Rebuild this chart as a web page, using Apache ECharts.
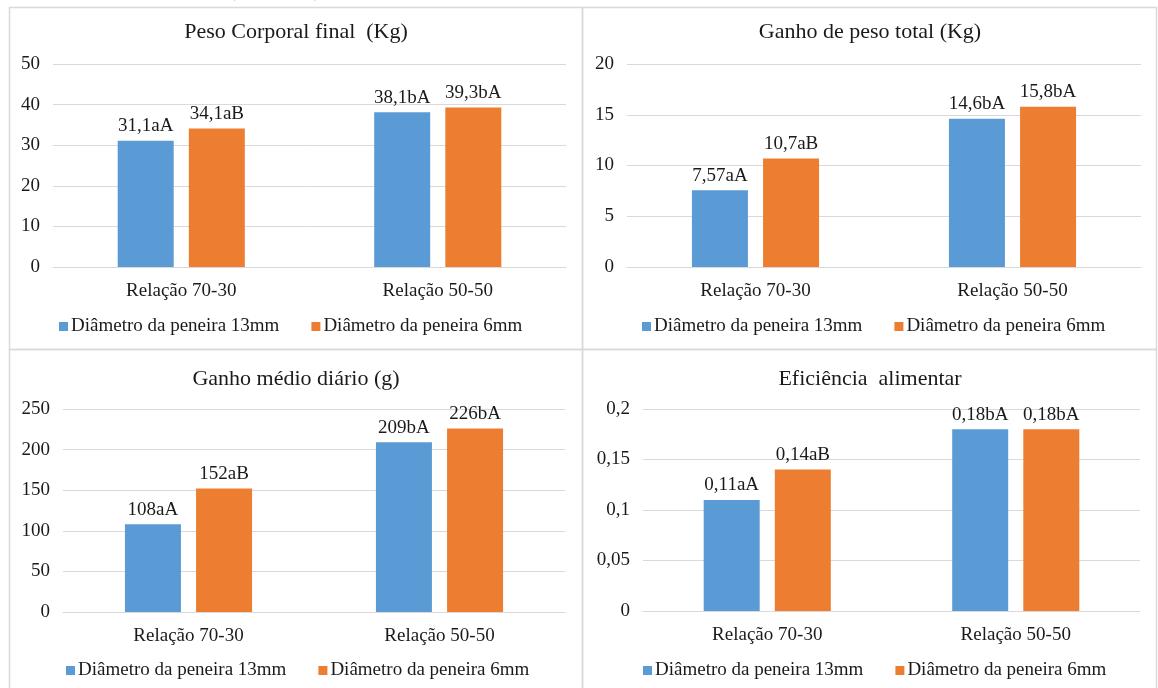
<!DOCTYPE html>
<html>
<head>
<meta charset="utf-8">
<script src="https://cdn.jsdelivr.net/npm/echarts@6/dist/echarts.min.js"></script>
<style>
  html, body { margin: 0; padding: 0; background: #fff; }
  #chart { width: 1158px; height: 688px; }
</style>
</head>
<body>
<div id="chart"></div>
<script>
// Categories and series names shared by the four panels
const categories = ['Relação 70-30', 'Relação 50-50'];
const seriesNames = ['Diâmetro da peneira 13mm', 'Diâmetro da peneira 6mm'];

// Panel titles
const titles = ['Peso Corporal final  (Kg)', 'Ganho de peso total (Kg)', 'Ganho médio diário (g)', 'Eficiência  alimentar'];

// Values per panel: [13mm, 6mm] for each category
const pesoFinal13 = [31.1, 38.1];
const pesoFinal6 = [34.1, 39.3];
const ganhoTotal13 = [7.57, 14.6];
const ganhoTotal6 = [10.7, 15.8];
const gmd13 = [108, 209];
const gmd6 = [152, 226];
const eficiencia13 = [0.11, 0.18];
const eficiencia6 = [0.14, 0.18];

// Significance letters
const letras13 = ['aA', 'bA'];
const letras6 = ['aB', 'bA'];

// Value axis ranges
const axisMax = [50, 20, 250, 0.2];
const axisStep = [10, 5, 50, 0.05];

const BLUE = '#5B9BD5';
const ORANGE = '#ED7D31';
const GRID_LINE = '#D9D9D9';
const FONT = '"Liberation Serif", "Times New Roman", serif';
const TEXT = '#1a1a1a';

const fmt = v => String(v).replace('.', ',');

const panels = [
  { a: pesoFinal13, b: pesoFinal6, grid: { left: 53, right: 592, top: 64, bottom: 421 }, cx: 296, ty: 21, legendLeft: 59, legendTop: 317 },
  { a: ganhoTotal13, b: ganhoTotal6, grid: { left: 627, right: 17, top: 64, bottom: 421 }, cx: 870, ty: 21, legendLeft: 642, legendTop: 317 },
  { a: gmd13, b: gmd6, grid: { left: 63, right: 593, top: 409, bottom: 76 }, cx: 296, ty: 368, legendLeft: 66, legendTop: 661 },
  { a: eficiencia13, b: eficiencia6, grid: { left: 643, right: 18, top: 409, bottom: 77 }, cx: 870, ty: 368, legendLeft: 643, legendTop: 661 }
];

const option = {
  animation: false,
  backgroundColor: '#fff',
  color: [BLUE, ORANGE],
  textStyle: { fontFamily: FONT },
  title: panels.map((p, i) => ({
    text: titles[i],
    left: p.cx,
    top: p.ty,
    textAlign: 'center',
    padding: 0,
    textStyle: { fontFamily: FONT, fontSize: 22, fontWeight: 'normal', color: TEXT }
  })),
  legend: panels.map(p => ({
    data: seriesNames,
    left: p.legendLeft,
    top: p.legendTop,
    icon: 'rect',
    itemWidth: 9,
    itemHeight: 9,
    itemGap: 32,
    padding: 0,
    selectedMode: false,
    textStyle: { fontFamily: FONT, fontSize: 19, color: TEXT, padding: [0, 0, 0, -2] }
  })),
  grid: panels.map(p => Object.assign({ containLabel: false }, p.grid)),
  xAxis: panels.map((p, i) => ({
    type: 'category',
    gridIndex: i,
    data: categories,
    axisLine: { show: true, lineStyle: { color: GRID_LINE, width: 1 } },
    axisTick: { show: false },
    axisLabel: { fontFamily: FONT, fontSize: 19, color: TEXT, margin: 15 }
  })),
  yAxis: panels.map((p, i) => ({
    type: 'value',
    gridIndex: i,
    min: 0,
    max: axisMax[i],
    interval: axisStep[i],
    axisLine: { show: false },
    axisTick: { show: false },
    splitLine: { lineStyle: { color: GRID_LINE, width: 1 } },
    axisLabel: { fontFamily: FONT, fontSize: 19, color: TEXT, margin: 13, formatter: v => fmt(+v.toFixed(2)) }
  })),
  series: panels.flatMap((p, i) => [
    { vals: p.a, letters: letras13, name: seriesNames[0], color: BLUE },
    { vals: p.b, letters: letras6, name: seriesNames[1], color: ORANGE }
  ].map(s => ({
    type: 'bar',
    name: s.name,
    xAxisIndex: i,
    yAxisIndex: i,
    data: s.vals,
    barWidth: 56,
    barGap: '27%',
    itemStyle: { color: s.color },
    label: {
      show: true,
      position: 'top',
      distance: 5,
      fontFamily: FONT,
      fontSize: 19,
      color: TEXT,
      formatter: d => fmt(d.value) + s.letters[d.dataIndex]
    }
  }))),
  graphic: [
    // panel frames
    { type: 'rect', shape: { x: 9.5, y: 7.5, width: 573, height: 342 }, style: { fill: 'none', stroke: GRID_LINE, lineWidth: 1.5 }, silent: true },
    { type: 'rect', shape: { x: 582.5, y: 7.5, width: 574, height: 342 }, style: { fill: 'none', stroke: GRID_LINE, lineWidth: 1.5 }, silent: true },
    { type: 'rect', shape: { x: 9.5, y: 349.5, width: 573, height: 350 }, style: { fill: 'none', stroke: GRID_LINE, lineWidth: 1.5 }, silent: true },
    { type: 'rect', shape: { x: 582.5, y: 349.5, width: 574, height: 350 }, style: { fill: 'none', stroke: GRID_LINE, lineWidth: 1.5 }, silent: true },
    // bracket fragments of the heading above the figure
    { type: 'text', left: 229, top: -19, style: { text: '(', font: '20px ' + FONT, fill: TEXT }, silent: true },
    { type: 'text', left: 314, top: -19, style: { text: ')', font: '20px ' + FONT, fill: TEXT }, silent: true }
  ]
};

const chart = echarts.init(document.getElementById('chart'), null, { renderer: 'canvas' });
chart.setOption(option);
</script>
</body>
</html>
